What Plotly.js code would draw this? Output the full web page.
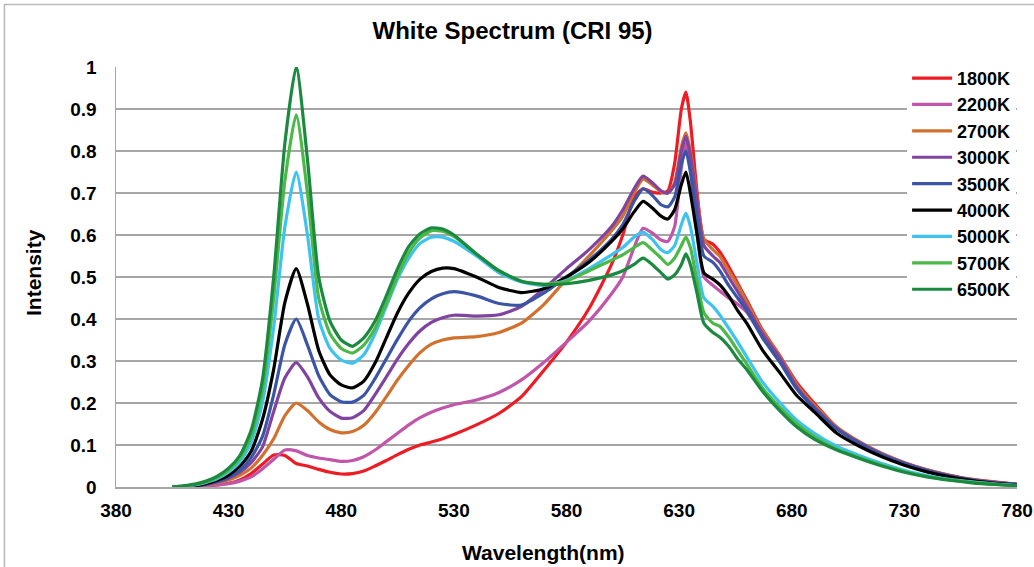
<!DOCTYPE html>
<html>
<head>
<meta charset="utf-8">
<script src="https://cdn.plot.ly/plotly-3.0.1.min.js"></script>
<style>html,body{margin:0;padding:0;background:#fff;}#chart{width:1034px;height:567px;}</style>
</head>
<body>
<div id="chart"></div>
<script>
const wavelength = [405,410,415,420,425,430,435,440,445,450,455,460,465,470,475,480,485,490,495,500,505,510,515,520,525,530,
  540,550,560,570,580,590,600,
  605,610,614,618,622,625,628,631,633,635,638,641,645,648,652,656,660,
  667,675,682,690,700,
  710,720,730,740,750,760,770,780];

const seriesNames = ["1800K","2200K","2700K","3000K","3500K","4000K","5000K","5700K","6500K"];
const seriesColors = ["#ed1c24","#c055aa","#d2712e","#8044a0","#3b55a5","#000000","#3ec3f0","#4cb848","#1b8a40"];

const s1800 = [0,0.001,0.002,0.003,0.005,0.009,0.017,0.032,0.054,0.076,0.075,0.056,0.05,0.042,0.035,0.031,0.032,0.038,0.05,0.063,0.077,0.09,0.1,0.107,0.115,0.125,
  0.148,0.175,0.215,0.278,0.345,0.425,0.53,
  0.6,0.69,0.71,0.702,0.70,0.705,0.77,0.9,0.94,0.87,0.7,0.59,0.578,0.56,0.525,0.485,0.445,
  0.374,0.31,0.25,0.199,0.142,
  0.107,0.08,0.058,0.041,0.028,0.018,0.012,0.006];
const s2200 = [0,0.001,0.002,0.003,0.005,0.008,0.014,0.024,0.043,0.066,0.088,0.086,0.075,0.069,0.065,0.061,0.063,0.072,0.088,0.108,0.128,0.148,0.165,0.178,0.188,0.196,
  0.207,0.225,0.255,0.297,0.345,0.395,0.46,
  0.5,0.57,0.616,0.605,0.588,0.585,0.62,0.76,0.82,0.76,0.6,0.5,0.48,0.467,0.45,0.435,0.416,
  0.36,0.3,0.24,0.19,0.14,
  0.105,0.078,0.057,0.04,0.027,0.017,0.011,0.006];
const s2700 = [0,0.001,0.003,0.006,0.01,0.017,0.028,0.045,0.075,0.115,0.17,0.2,0.182,0.155,0.137,0.129,0.132,0.147,0.177,0.215,0.255,0.29,0.32,0.34,0.35,0.355,
  0.358,0.368,0.39,0.435,0.495,0.55,0.61,
  0.645,0.7,0.733,0.72,0.703,0.70,0.725,0.81,0.843,0.8,0.69,0.59,0.565,0.55,0.515,0.48,0.44,
  0.372,0.31,0.245,0.195,0.143,
  0.108,0.08,0.058,0.041,0.028,0.018,0.011,0.006];
const s3000 = [0,0.001,0.003,0.007,0.012,0.021,0.035,0.058,0.095,0.18,0.26,0.296,0.262,0.212,0.18,0.164,0.165,0.182,0.22,0.262,0.305,0.342,0.372,0.392,0.403,0.409,
  0.407,0.41,0.43,0.472,0.52,0.565,0.62,
  0.66,0.71,0.74,0.725,0.705,0.70,0.72,0.8,0.835,0.79,0.68,0.575,0.55,0.535,0.5,0.465,0.43,
  0.365,0.305,0.24,0.19,0.14,
  0.106,0.078,0.057,0.04,0.027,0.017,0.011,0.006];
const s3500 = [0,0.001,0.003,0.007,0.013,0.023,0.04,0.07,0.12,0.22,0.34,0.4,0.338,0.265,0.22,0.203,0.202,0.218,0.258,0.305,0.352,0.395,0.427,0.448,0.46,0.465,
  0.455,0.437,0.433,0.462,0.5,0.54,0.59,
  0.625,0.68,0.71,0.695,0.672,0.667,0.69,0.77,0.8,0.75,0.64,0.55,0.535,0.515,0.48,0.45,0.42,
  0.355,0.295,0.235,0.187,0.138,
  0.104,0.077,0.056,0.039,0.026,0.017,0.01,0.006];
const s4000 = [0,0.001,0.003,0.008,0.016,0.028,0.05,0.085,0.16,0.28,0.44,0.52,0.435,0.325,0.267,0.243,0.236,0.252,0.295,0.355,0.415,0.462,0.495,0.513,0.521,0.52,
  0.5,0.475,0.463,0.472,0.5,0.535,0.585,
  0.615,0.655,0.68,0.665,0.645,0.638,0.66,0.72,0.75,0.7,0.6,0.51,0.495,0.482,0.455,0.42,0.39,
  0.326,0.27,0.219,0.179,0.128,
  0.097,0.072,0.052,0.036,0.024,0.015,0.009,0.005];
const s5000 = [0,0.002,0.005,0.011,0.02,0.036,0.06,0.105,0.2,0.38,0.62,0.75,0.6,0.4,0.33,0.302,0.295,0.315,0.365,0.43,0.495,0.545,0.58,0.595,0.595,0.585,
  0.55,0.51,0.488,0.48,0.492,0.52,0.553,
  0.57,0.595,0.607,0.59,0.565,0.558,0.575,0.625,0.652,0.62,0.53,0.45,0.43,0.41,0.378,0.345,0.31,
  0.25,0.199,0.16,0.128,0.097,
  0.075,0.056,0.04,0.027,0.018,0.012,0.007,0.004];
const s5700 = [0,0.002,0.006,0.012,0.023,0.04,0.068,0.12,0.23,0.45,0.73,0.886,0.7,0.45,0.365,0.33,0.319,0.338,0.378,0.437,0.503,0.558,0.593,0.61,0.609,0.597,
  0.555,0.515,0.49,0.483,0.49,0.515,0.54,
  0.553,0.57,0.582,0.565,0.545,0.53,0.545,0.575,0.595,0.57,0.49,0.415,0.39,0.383,0.357,0.325,0.293,
  0.236,0.188,0.152,0.12,0.09,
  0.07,0.052,0.037,0.025,0.017,0.011,0.007,0.003];
const s6500 = [0,0.003,0.007,0.014,0.026,0.045,0.075,0.135,0.255,0.5,0.82,1.0,0.78,0.5,0.395,0.35,0.335,0.355,0.395,0.455,0.52,0.573,0.603,0.617,0.614,0.6,
  0.555,0.515,0.49,0.482,0.484,0.492,0.505,
  0.515,0.53,0.545,0.53,0.51,0.495,0.505,0.53,0.555,0.53,0.46,0.39,0.368,0.357,0.335,0.305,0.28,
  0.228,0.18,0.144,0.114,0.088,
  0.068,0.05,0.035,0.024,0.016,0.01,0.006,0.003];

const seriesValues = [s1800,s2200,s2700,s3000,s3500,s4000,s5000,s5700,s6500];

const xTicks = [380,430,480,530,580,630,680,730,780];
const yTicks = [0,0.1,0.2,0.3,0.4,0.5,0.6,0.7,0.8,0.9,1];

const FONT = "Liberation Sans, Arial, Helvetica, sans-serif";

const traces = seriesNames.map((name, i) => ({
  type: "scatter",
  mode: "lines",
  name: name,
  x: wavelength,
  y: seriesValues[i],
  line: {color: seriesColors[i], width: 3.2, shape: "spline", smoothing: 0.6}
}));

const layout = {
  width: 1034,
  height: 567,
  paper_bgcolor: "#ffffff",
  plot_bgcolor: "#ffffff",
  margin: {l: 116, r: 17, t: 67, b: 80},
  font: {family: FONT, color: "#000"},
  title: {
    text: "White Spectrum (CRI 95)",
    font: {family: FONT, size: 24, weight: "bold", color: "#000"},
    xref: "container", x: 0.4957, xanchor: "center",
    yref: "container", y: 0.946, yanchor: "middle"
  },
  xaxis: {
    range: [380, 780],
    tickmode: "array",
    tickvals: xTicks,
    ticktext: xTicks.map(String),
    showgrid: false,
    zeroline: false,
    showline: true,
    linecolor: "#a6a6a6",
    linewidth: 1.5,
    ticks: "",
    ticklabelstandoff: 6,
    tickfont: {family: FONT, size: 19, weight: "bold", color: "#000"}
  },
  yaxis: {
    range: [0, 1],
    tickmode: "array",
    tickvals: yTicks,
    ticktext: yTicks.map(String),
    showgrid: true,
    gridcolor: "#a6a6a6",
    gridwidth: 1.5,
    zeroline: false,
    showline: true,
    linecolor: "#a6a6a6",
    linewidth: 1.5,
    ticks: "",
    ticklabelstandoff: 14,
    tickfont: {family: FONT, size: 19, weight: "bold", color: "#000"}
  },
  legend: {
    x: 0.878, xanchor: "left",
    y: 1.017, yanchor: "top",
    bgcolor: "#ffffff",
    borderwidth: 0,
    tracegroupgap: 0,
    itemwidth: 40,
    font: {family: FONT, size: 18, weight: "bold", color: "#000"}
  },
  showlegend: true,
  annotations: [
    {text: "Wavelength(nm)", xref: "paper", yref: "paper", x: 0.474, y: -0.155,
     xanchor: "center", yanchor: "middle", showarrow: false,
     font: {family: FONT, size: 21, weight: "bold", color: "#000"}},
    {text: "Intensity", xref: "paper", yref: "paper", x: -0.0921, y: 0.5095,
     xanchor: "center", yanchor: "middle", showarrow: false, textangle: -90,
     font: {family: FONT, size: 21, weight: "bold", color: "#000"}}
  ],
  shapes: [
    {type: "rect", xref: "paper", yref: "paper", x0: -0.1238, x1: 1.08, y0: -0.25, y1: 1.1488,
     line: {color: "#b8b8b8", width: 1.5}, fillcolor: "rgba(0,0,0,0)", layer: "below"}
  ]
};

Plotly.newPlot("chart", traces, layout, {displayModeBar: false, staticPlot: true});
</script>
</body>
</html>
